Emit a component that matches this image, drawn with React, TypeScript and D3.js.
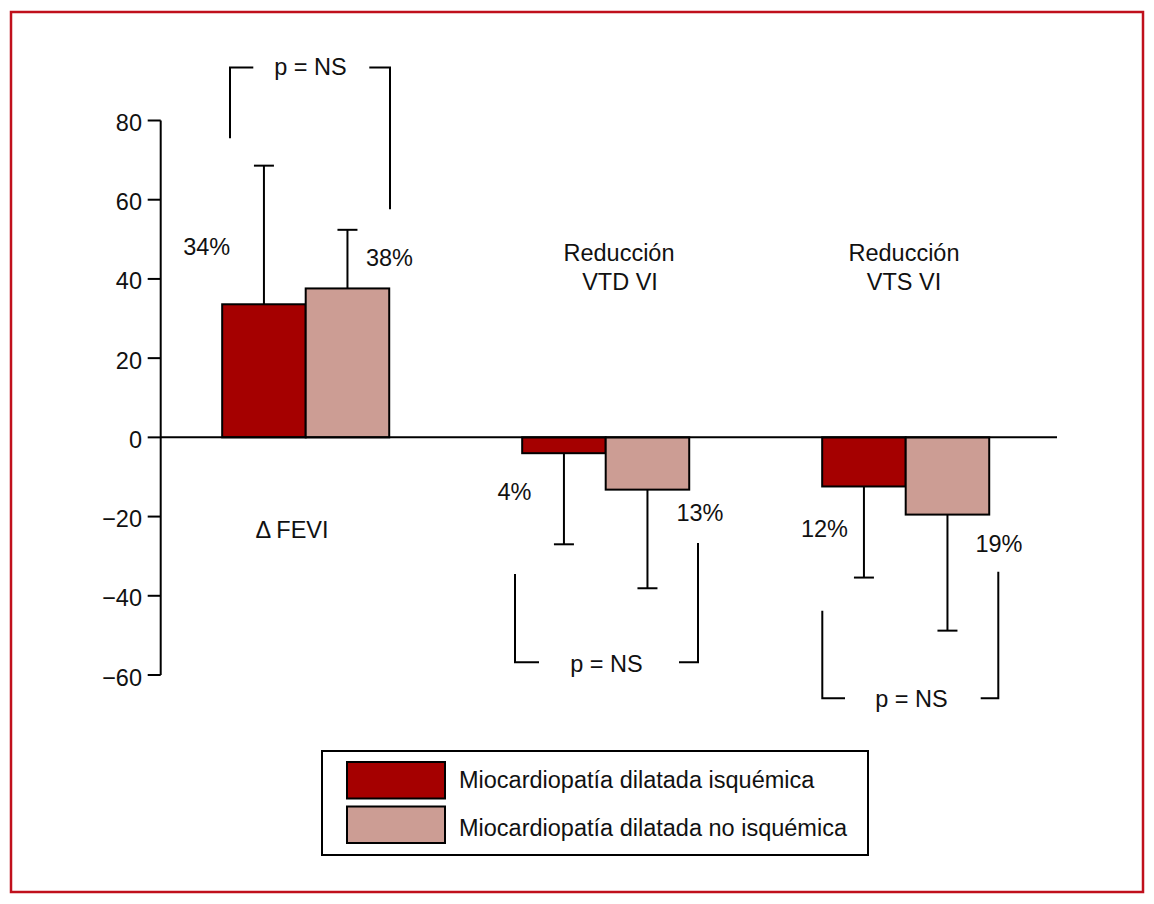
import React from "react";
import * as d3 from "d3";

// ---- Data ----
const categories = ["Δ FEVI", "Reducción VTD VI", "Reducción VTS VI"];
const seriesNames = [
  "Miocardiopatía dilatada isquémica",
  "Miocardiopatía dilatada no isquémica",
];
const isquemicaValues = [33.6, -4.0, -12.4];
const noIsquemicaValues = [37.6, -13.2, -19.5];
const isquemicaErrEnd = [68.6, -27.0, -35.4];
const noIsquemicaErrEnd = [52.4, -38.1, -48.8];
const isquemicaLabels = ["34%", "4%", "12%"];
const noIsquemicaLabels = ["38%", "13%", "19%"];
const yTicks = [-60, -40, -20, 0, 20, 40, 60, 80];
const pLabels = ["p = NS", "p = NS", "p = NS"];
// bracket levels in data units: [horizontal level, left end, right end]
const bracketLevel = [93.4, -56.8, -65.9];
const bracketLeftEnd = [75.5, -34.5, -43.8];
const bracketRightEnd = [57.6, -26.7, -33.9];

const COLORS = ["#a50000", "#cc9d94"];
const FONT = "'Liberation Sans', Arial, Helvetica, sans-serif";

export default function App() {
  const W = 1154;
  const H = 904;
  const y = d3.scaleLinear().domain([-60, 80]).range([675, 120.5]);
  const x0 = d3.scaleBand<string>().domain(categories).range([155.7, 1055.7]).padding(0);
  const x1 = d3
    .scaleBand<number>()
    .domain([0, 1])
    .range([0, x0.bandwidth()])
    .paddingInner(0)
    .paddingOuter(0.796);
  const axisX = 160.7;

  const series = [
    { values: isquemicaValues, err: isquemicaErrEnd, labels: isquemicaLabels },
    { values: noIsquemicaValues, err: noIsquemicaErrEnd, labels: noIsquemicaLabels },
  ];

  const valueLabelPos = [
    [
      { x: 206.7, y: 255 },
      { x: 389.5, y: 266 },
    ],
    [
      { x: 514.5, y: 500 },
      { x: 700, y: 521 },
    ],
    [
      { x: 824.5, y: 537 },
      { x: 999, y: 552 },
    ],
  ];
  const bracketX = [
    { l: 230, r: 390, gl: 253.3, gr: 369.3, tx: 310.5, ty: 75 },
    { l: 515, r: 698, gl: 539, gr: 679, tx: 606.5, ty: 672 },
    { l: 822.3, r: 998.3, gl: 845, gr: 980.7, tx: 911.5, ty: 707 },
  ];

  const textStyle: React.CSSProperties = {
    fontFamily: FONT,
    fontSize: 23.5,
    fill: "#111",
  };

  return (
    <svg
      width={W}
      height={H}
      style={{ position: "absolute", left: 0, top: 0, background: "#fff" }}
    >
      <rect x={0} y={0} width={W} height={H} fill="#fff" />
      {/* frame */}
      <rect x={11} y={12} width={1132} height={880} fill="none" stroke="#c0101c" strokeWidth={2.5} />

      {/* y axis */}
      <line x1={axisX} x2={axisX} y1={y(80)} y2={y(-60)} stroke="#000" strokeWidth={2} />
      {yTicks.map((t) => (
        <g key={t}>
          <line x1={axisX - 13} x2={axisX} y1={y(t)} y2={y(t)} stroke="#000" strokeWidth={2} />
          <text x={142} y={y(t) + 10.5} textAnchor="end" style={textStyle}>
            {t < 0 ? "\u2212" + Math.abs(t) : String(t)}
          </text>
        </g>
      ))}

      {/* bars */}
      {categories.map((c, ci) =>
        series.map((s, si) => {
          const v = s.values[ci];
          const bx = (x0(c) as number) + (x1(si) as number);
          const bw = x1.bandwidth();
          return (
            <rect
              key={c + si}
              x={bx}
              y={Math.min(y(v), y(0))}
              width={bw}
              height={Math.abs(y(v) - y(0))}
              fill={COLORS[si]}
              stroke="#000"
              strokeWidth={2}
            />
          );
        })
      )}

      {/* error bars */}
      {categories.map((c, ci) =>
        series.map((s, si) => {
          const cx = (x0(c) as number) + (x1(si) as number) + x1.bandwidth() / 2;
          const v = s.values[ci];
          const e = s.err[ci];
          return (
            <g key={"e" + c + si}>
              <line x1={cx} x2={cx} y1={y(v)} y2={y(e)} stroke="#000" strokeWidth={2} />
              <line x1={cx - 10} x2={cx + 10} y1={y(e)} y2={y(e)} stroke="#000" strokeWidth={2} />
            </g>
          );
        })
      )}

      {/* zero line */}
      <line x1={axisX} x2={1057} y1={y(0)} y2={y(0)} stroke="#000" strokeWidth={2} />

      {/* value labels */}
      {categories.map((c, ci) =>
        series.map((s, si) => (
          <text
            key={"l" + c + si}
            x={valueLabelPos[ci][si].x}
            y={valueLabelPos[ci][si].y}
            textAnchor="middle"
            style={textStyle}
          >
            {s.labels[ci]}
          </text>
        ))
      )}

      {/* brackets */}
      {categories.map((c, ci) => {
        const b = bracketX[ci];
        const yl = y(bracketLevel[ci]);
        const path =
          `M${b.l},${y(bracketLeftEnd[ci])}L${b.l},${yl}L${b.gl},${yl}` +
          `M${b.gr},${yl}L${b.r},${yl}L${b.r},${y(bracketRightEnd[ci])}`;
        return (
          <g key={"b" + c}>
            <path d={path} fill="none" stroke="#000" strokeWidth={2} />
            <text x={b.tx} y={b.ty} textAnchor="middle" style={textStyle}>
              {pLabels[ci]}
            </text>
          </g>
        );
      })}

      {/* category labels */}
      <text x={292} y={538} textAnchor="middle" style={textStyle}>
        {categories[0]}
      </text>
      <text x={619} y={261} textAnchor="middle" style={textStyle}>
        Reducción
      </text>
      <text x={620} y={290} textAnchor="middle" style={textStyle}>
        VTD VI
      </text>
      <text x={904} y={261} textAnchor="middle" style={textStyle}>
        Reducción
      </text>
      <text x={904} y={290} textAnchor="middle" style={textStyle}>
        VTS VI
      </text>

      {/* legend */}
      <rect x={322} y={751} width={546} height={104} fill="#fff" stroke="#000" strokeWidth={2} />
      {seriesNames.map((n, i) => (
        <g key={n}>
          <rect
            x={347}
            y={762 + i * 44.5}
            width={98}
            height={36.5}
            fill={COLORS[i]}
            stroke="#000"
            strokeWidth={2}
          />
          <text x={459} y={788 + i * 48} style={textStyle}>
            {n}
          </text>
        </g>
      ))}
    </svg>
  );
}
